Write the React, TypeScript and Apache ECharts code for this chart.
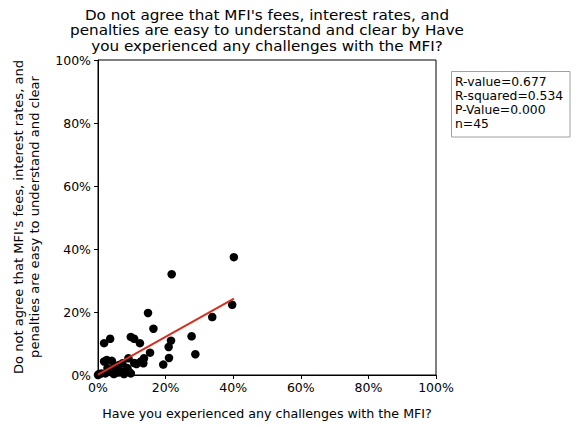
import React, { useEffect, useRef } from "react";
import * as echarts from "echarts";

// Share of respondents (%) per group: x = experienced challenges, y = do not agree fees are clear
const challengePct: number[] = [
  40.2, 21.8, 39.7, 14.8, 33.8, 16.4, 27.7, 21.6, 20.9, 28.8,
  21.0, 19.3, 9.7, 10.7, 3.6, 1.8, 12.4, 15.4, 13.6, 13.4,
  11.4, 9.0, 7.2, 2.6, 4.1, 0.3, 4.7, 7.7, 9.7, 2.8,
  4.7, 6.7, 8.7, 10.7, 1.8, 6.0, 3.5, 8.2, 5.5, 1.0,
  9.2, 0.0, 2.2, 12.7, 6.2,
];
const disagreePct: number[] = [
  37.4, 32.0, 22.3, 19.7, 18.4, 14.7, 12.3, 10.9, 8.9, 6.6,
  5.4, 3.3, 12.1, 11.5, 11.5, 10.1, 10.1, 7.1, 5.3, 3.7,
  3.5, 5.3, 3.7, 4.8, 4.5, 0.3, 0.3, 0.3, 0.5, 2.2,
  2.2, 1.2, 2.2, 3.8, 4.3, 0.8, 1.0, 1.0, 2.8, 0.5,
  1.0, 0.0, 0.5, 4.3, 3.2,
];

// Fitted regression line: y = slope * x + intercept
const fitSlope = 0.6;
const fitIntercept = 0.1;

const statLines: string[] = ["R-value=0.677", "R-squared=0.534", "P-Value=0.000", "n=45"];
const axisTicks: number[] = [0, 20, 40, 60, 80, 100];

const titleText =
  "Do not agree that MFI's fees, interest rates, and\npenalties are easy to understand and clear by Have\nyou experienced any challenges with the MFI?";
const yLabel = "Do not agree that MFI's fees, interest rates, and\npenalties are easy to understand and clear";
const xLabel = "Have you experienced any challenges with the MFI?";

const FONT = "DejaVu Sans";

export default function App() {
  const ref = useRef<HTMLDivElement>(null);

  useEffect(() => {
    if (!ref.current) return;
    const chart = echarts.init(ref.current, undefined, { renderer: "svg" });

    const points = challengePct.map((x, i) => [x, disagreePct[i]]);
    const xMin = Math.min(...challengePct);
    const xMax = Math.max(...challengePct);
    const fit = [
      [xMin, fitSlope * xMin + fitIntercept],
      [xMax, fitSlope * xMax + fitIntercept],
    ];

    const axisCommon = {
      min: axisTicks[0],
      max: axisTicks[axisTicks.length - 1],
      interval: axisTicks[1] - axisTicks[0],
      splitLine: { show: false },
      axisLine: { show: true, lineStyle: { color: "#000", width: 1 } },
      axisTick: { show: true, inside: false, length: 4, lineStyle: { color: "#000" } },
      axisLabel: {
        formatter: "{value}%",
        color: "#000",
        fontSize: 12.5,
        fontFamily: FONT,
        margin: 6,
      },
    };

    chart.setOption({
      animation: false,
      backgroundColor: "#fff",
      grid: {
        left: 98,
        right: 142,
        top: 60,
        bottom: 51,
        show: true,
        borderColor: "#000",
        borderWidth: 1,
        backgroundColor: "transparent",
      },
      xAxis: { type: "value", ...axisCommon },
      yAxis: { type: "value", ...axisCommon, axisLabel: { ...axisCommon.axisLabel, margin: 7 } },
      series: [
        {
          type: "scatter",
          data: points,
          symbol: "circle",
          symbolSize: 8.5,
          itemStyle: { color: "#000", opacity: 1 },
          z: 2,
        },
        {
          type: "line",
          data: fit,
          showSymbol: false,
          lineStyle: { color: "#d62f1f", width: 2 },
          z: 3,
        },
      ],
      graphic: [
        {
          type: "text",
          x: 267,
          y: 6.5,
          scaleX: 1.085,
          style: {
            text: titleText,
            fill: "#000",
            fontSize: 14,
            fontFamily: FONT,
            align: "center",
            verticalAlign: "top",
            lineHeight: 15.8,
          },
        },
        {
          type: "text",
          x: 26,
          y: 217,
          rotation: Math.PI / 2,
          style: {
            text: yLabel,
            fill: "#000",
            fontSize: 13.1,
            fontFamily: FONT,
            align: "center",
            verticalAlign: "middle",
            lineHeight: 16,
          },
        },
        {
          type: "text",
          x: 267,
          y: 414,
          scaleX: 1.055,
          style: {
            text: xLabel,
            fill: "#000",
            fontSize: 12,
            fontFamily: FONT,
            align: "center",
            verticalAlign: "middle",
          },
        },
        {
          type: "rect",
          shape: { x: 451.5, y: 71.5, width: 118.5, height: 65.5 },
          style: { fill: "#fff", stroke: "#a0a0a0", lineWidth: 1 },
        },
        {
          type: "text",
          x: 455,
          y: 74.6,
          scaleX: 1.075,
          style: {
            text: statLines.join("\n"),
            fill: "#000",
            fontSize: 11.5,
            fontFamily: FONT,
            lineHeight: 14.2,
            align: "left",
            verticalAlign: "top",
          },
        },
      ],
    });

    return () => chart.dispose();
  }, []);

  return (
    <div
      ref={ref}
      style={{ position: "fixed", left: 0, top: 0, width: 578, height: 426 }}
    />
  );
}
